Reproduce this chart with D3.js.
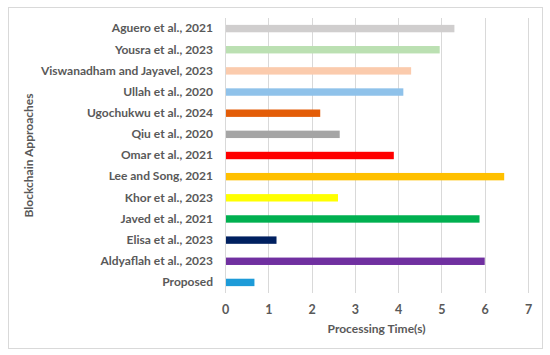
<!DOCTYPE html>
<html>
<head>
<meta charset="utf-8">
<script src="https://cdn.jsdelivr.net/npm/d3@7/dist/d3.min.js"></script>
<style>
  body { margin: 0; background: #fff; }
  svg { display: block; }
</style>
</head>
<body>
<svg id="chart" width="550" height="355"></svg>
<script>
const approaches = [
  "Aguero et al., 2021", "Yousra et al., 2023", "Viswanadham and Jayavel, 2023",
  "Ullah et al., 2020", "Ugochukwu et al., 2024", "Qiu et al., 2020",
  "Omar et al., 2021", "Lee and Song, 2021", "Khor et al., 2023",
  "Javed et al., 2021", "Elisa et al., 2023", "Aldyaflah et al., 2023", "Proposed"
];
const times = [5.30, 4.96, 4.30, 4.12, 2.20, 2.65, 3.90, 6.45, 2.61, 5.88, 1.19, 6.0, 0.68];
const barColors = [
  "#d0cece", "#bbe0b2", "#fbcbad", "#8fc2ea", "#e35d08", "#a5a5a5",
  "#ff0000", "#ffc000", "#ffff00", "#00b050", "#002060", "#7030a0", "#1d9bd8"
];
const xTicks = [0, 1, 2, 3, 4, 5, 6, 7];

const FONT = "Lato, 'Open Sans', sans-serif";
const TEXT_COLOR = "#595959";
const GRID_COLOR = "#d9d9d9";

const PLOT_LEFT = 225;
const PLOT_RIGHT = 528;
const PLOT_TOP = 18;
const PLOT_BOTTOM = 293;

const svg = d3.select("#chart");

// chart border
svg.append("rect")
  .attr("x", 8.5).attr("y", 7.5)
  .attr("width", 534).attr("height", 341)
  .attr("fill", "#fff")
  .attr("stroke", GRID_COLOR)
  .attr("stroke-width", 1);

const x = d3.scaleLinear().domain([0, 7]).range([PLOT_LEFT, PLOT_RIGHT]);
const y = d3.scaleBand().domain(approaches).range([PLOT_TOP, PLOT_BOTTOM]).paddingInner(0.65).paddingOuter(0.325);

// vertical gridlines
svg.append("g")
  .selectAll("line")
  .data(xTicks)
  .join("line")
  .attr("x1", d => Math.round(x(d)) + 0.5)
  .attr("x2", d => Math.round(x(d)) + 0.5)
  .attr("y1", PLOT_TOP)
  .attr("y2", PLOT_BOTTOM)
  .attr("stroke", GRID_COLOR)
  .attr("stroke-width", 1);

// bars
svg.append("g")
  .selectAll("rect")
  .data(approaches)
  .join("rect")
  .attr("x", x(0) + 1)
  .attr("y", d => y(d))
  .attr("width", (d, i) => x(times[i]) - x(0) - 1)
  .attr("height", y.bandwidth())
  .attr("fill", (d, i) => barColors[i]);

// x axis tick labels
const xAxis = svg.append("g")
  .attr("transform", `translate(0,${PLOT_BOTTOM + 12})`)
  .call(d3.axisBottom(x).tickValues(xTicks).tickFormat(d3.format("d")).tickSize(0).tickPadding(0));
xAxis.select(".domain").remove();
xAxis.selectAll("text")
  .attr("dy", "0.71em")
  .style("font-family", FONT)
  .style("font-size", "12.5px")
  .style("font-weight", "bold")
  .style("fill", TEXT_COLOR);

// y axis category labels
const yAxis = svg.append("g")
  .attr("transform", `translate(${PLOT_LEFT - 12},0)`)
  .call(d3.axisLeft(y).tickSize(0).tickPadding(0));
yAxis.select(".domain").remove();
yAxis.selectAll("text")
  .style("font-family", FONT)
  .style("font-size", "12px")
  .style("font-weight", "bold")
  .style("fill", TEXT_COLOR);

// axis titles
svg.append("text")
  .attr("x", (PLOT_LEFT + PLOT_RIGHT) / 2)
  .attr("y", 333)
  .attr("text-anchor", "middle")
  .style("font-family", FONT)
  .style("font-size", "12px")
  .style("font-weight", "bold")
  .style("fill", TEXT_COLOR)
  .text("Processing Time(s)");

svg.append("text")
  .attr("transform", `translate(33,${(PLOT_TOP + PLOT_BOTTOM) / 2}) rotate(-90)`)
  .attr("text-anchor", "middle")
  .style("font-family", FONT)
  .style("font-size", "12px")
  .style("font-weight", "bold")
  .style("fill", TEXT_COLOR)
  .text("Blockchain Approaches");
</script>
</body>
</html>
